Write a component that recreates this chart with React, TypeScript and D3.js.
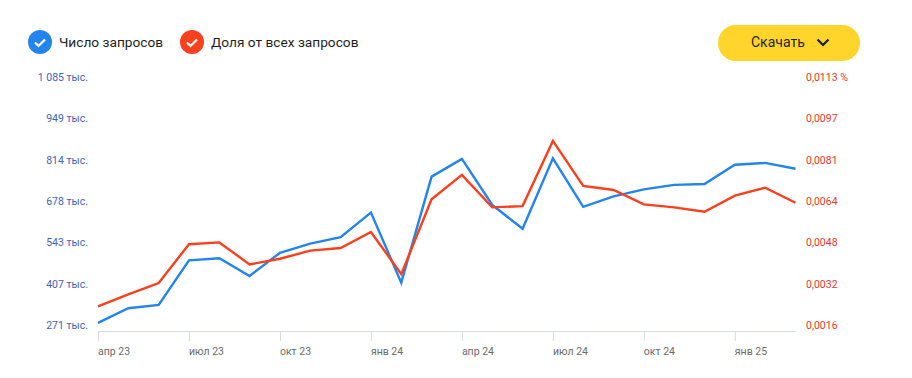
import React from "react";
import * as d3 from "d3";

const requests = [278,326,337,483,490,432,508,538,559,640,410,758,816,665,587,818,659,693,716,731,734,797,803,784];
const shares = [0.00233,0.0028,0.00324,0.00476,0.00483,0.00397,0.00419,0.00451,0.00461,0.00524,0.00359,0.00652,0.00747,0.0062,0.00625,0.0088,0.00704,0.00688,0.00632,0.0062,0.00603,0.00666,0.00697,0.00638];
const leftTicks = [271,407,543,678,814,949,1085];
const leftLabels = ["271 тыс.","407 тыс.","543 тыс.","678 тыс.","814 тыс.","949 тыс.","1 085 тыс."];
const rightTicks = [0.0016,0.0032,0.0048,0.0064,0.0081,0.0097,0.0113];
const rightLabels = ["0,0016","0,0032","0,0048","0,0064","0,0081","0,0097","0,0113 %"];
const xTickIdx = [0,3,6,9,12,15,18,21];
const xLabels = ["апр 23","июл 23","окт 23","янв 24","апр 24","июл 24","окт 24","янв 25"];
const legend = ["Число запросов","Доля от всех запросов"];

const FONT = "Roboto, 'Noto Sans', sans-serif";
const BLUE = "#2284ec";
const RED = "#fc3f1d";

export default function App() {
  const x = d3.scaleLinear().domain([0,23]).range([98,795.5]);
  const yL = d3.scaleLinear().domain([271,1085]).range([325,77]);
  const yR = d3.scaleLinear().domain([0.0016,0.0113]).range([325,77]);
  const lineL = d3.line<number>().x((_,i)=>x(i)).y(d=>yL(d));
  const lineR = d3.line<number>().x((_,i)=>x(i)).y(d=>yR(d));
  const tickY = d3.scalePoint<number>().domain(d3.range(7)).range([325,77]);
  const base = (i:number) => Math.round(tickY(i)! + 3.9);
  return (
    <svg width={912} height={378} style={{position:"absolute",left:0,top:0,fontFamily:FONT}}>
      <rect width={912} height={378} fill="#fff"/>
      {legend.map((t,i)=>{
        const cx=[40,192][i];
        return <g key={t}>
          <circle cx={cx} cy={42} r={12} fill={i?RED:BLUE}/>
          <path d={`M${cx-5} 42.5l3.5 3.5l6.5 -6.5`} fill="none" stroke="#fff" strokeWidth={2.2}/>
          <text x={[59,211][i]} y={47} fontSize={13.7} fill="#1f1f1f">{t}</text>
        </g>;
      })}
      <rect x={718} y={25} width={142} height={36} rx={18} fill="#ffd52b"/>
      <text x={751} y={47} fontSize={14} fill="#1f1f1f">Скачать</text>
      <path d="M817.5 39.5l5.5 5.5l5.5 -5.5" fill="none" stroke="#1a1a1a" strokeWidth={2.2}/>
      {leftTicks.map((t,i)=><text key={t} x={88} y={base(i)} fontSize={10.5} textAnchor="end" fill="#3f62b5">{leftLabels[i]}</text>)}
      {rightTicks.map((t,i)=><text key={t} x={806} y={base(i)} fontSize={10.5} fill="#e5392b">{rightLabels[i]}</text>)}
      <line x1={98} x2={796} y1={331.5} y2={331.5} stroke="#d3dcec"/>
      {xTickIdx.map((m,i)=><g key={m}>
        <line x1={x(m)+.5} x2={x(m)+.5} y1={331} y2={341} stroke="#d3dcec"/>
        <text x={x(m)} y={355} fontSize={10.5} fill="#6b6b6b">{xLabels[i]}</text>
      </g>)}
      <path d={lineL(requests)!} fill="none" stroke={BLUE} strokeWidth={2.4}/>
      <path d={lineR(shares)!} fill="none" stroke={RED} strokeWidth={2.4}/>
    </svg>
  );
}
